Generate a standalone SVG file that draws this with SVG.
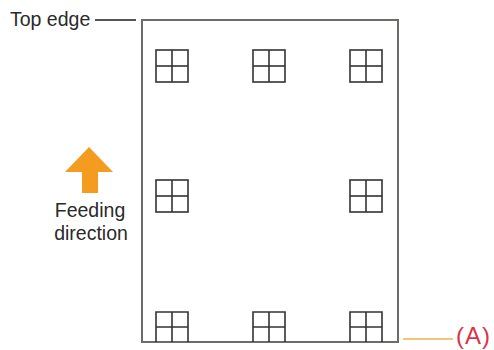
<svg xmlns="http://www.w3.org/2000/svg" width="494" height="350" viewBox="0 0 494 350">
<style>
.lbl{font-family:"Liberation Sans",Arial,sans-serif;font-size:19.5px;fill:#2a2a2a}
.ic{fill:#fff;stroke:#333;stroke-width:1.6}
.icl{stroke:#333;stroke-width:1.6}
</style>
<defs>
<g id="icon"><rect class="ic" x="0" y="0" width="32" height="32"/><line class="icl" x1="16" y1="0" x2="16" y2="32"/><line class="icl" x1="0" y1="16" x2="32" y2="16"/></g>
</defs>
<rect width="494" height="350" fill="#fff"/>
<g id="page"><rect x="142" y="20" width="256" height="322" fill="none" stroke="#6f6b69" stroke-width="2"/></g>
<g id="icons">
<use href="#icon" x="156" y="50"/>
<use href="#icon" x="253" y="50"/>
<use href="#icon" x="350" y="50"/>
<use href="#icon" x="156" y="180"/>
<use href="#icon" x="350" y="180"/>
<g transform="translate(156,312)"><path class="icl" fill="none" d="M0 30V0H32V30M16 0V30M0 15H32"/></g>
<g transform="translate(253,312)"><path class="icl" fill="none" d="M0 30V0H32V30M16 0V30M0 15H32"/></g>
<g transform="translate(350,312)"><path class="icl" fill="none" d="M0 30V0H32V30M16 0V30M0 15H32"/></g>
</g>
<g id="connectors">
<line x1="95" y1="20" x2="136" y2="20" stroke="#555" stroke-width="2"/>
<line x1="403" y1="339" x2="453" y2="339" stroke="#f5b04a" stroke-width="1.5"/>
</g>
<g id="top-edge"><text class="lbl" x="10" y="26">Top edge</text></g>
<g id="feeding">
<polygon points="89,147 113,172 98,172 98,193 82,193 82,172 65,172" fill="#f39c1f"/>
<text class="lbl" x="90" y="217" text-anchor="middle">Feeding</text>
<text class="lbl" x="91" y="240" text-anchor="middle">direction</text>
</g>
<g id="label-a"><text x="456" y="344" font-family="'Liberation Sans',Arial,sans-serif" font-size="24" letter-spacing="1" fill="#d8334a">(A)</text></g>
</svg>
